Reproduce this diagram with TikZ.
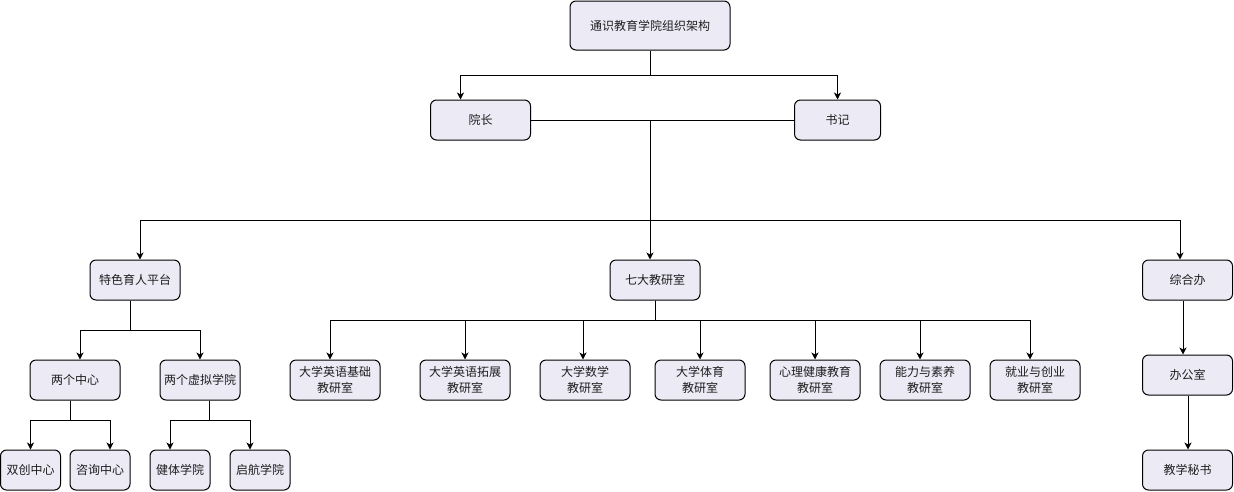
\documentclass[tikz,border=0pt]{standalone}
\usepackage{fontspec}
\setmainfont{Noto Sans CJK SC}
\usetikzlibrary{arrows.meta,calc}
\definecolor{boxfill}{RGB}{236,234,245}
\definecolor{txt}{RGB}{30,30,30}
\begin{document}
\begin{tikzpicture}[x=1pt,y=-1pt,
  box/.style={draw=black, line width=1pt, fill=boxfill, rounded corners=6pt, inner sep=0pt,
    align=center, font=\fontsize{12}{16.5}\selectfont, text=txt},
  arr/.style={line width=1pt, -{Stealth[length=7pt,width=7pt,inset=2pt]}},
  ln/.style={line width=1pt}]
\useasboundingbox (0,0) rectangle (1234,491);

% top levels
\node[box, minimum width=160pt, minimum height=49pt] (top) at (650,25.5) {通识教育学院组织架构};
\node[box, minimum width=100pt, minimum height=40pt] (yz) at (480.5,120) {院长};
\node[box, minimum width=86pt, minimum height=40pt] (sj) at (837.5,120) {书记};

\node[box, minimum width=90pt, minimum height=40pt] (tese) at (135,280) {特色育人平台};
\node[box, minimum width=90pt, minimum height=40pt] (qida) at (655,280) {七大教研室};
\node[box, minimum width=90pt, minimum height=40pt] (zhb) at (1187.5,280) {综合办};

% left branch
\node[box, minimum width=90pt, minimum height=40pt] (lgzx) at (75,380) {两个中心};
\node[box, minimum width=80pt, minimum height=40pt] (lgxn) at (200,380) {两个虚拟学院};
\node[box, minimum width=60pt, minimum height=40pt] (sc) at (30.5,470) {双创中心};
\node[box, minimum width=60pt, minimum height=40pt] (zx) at (100,470) {咨询中心};
\node[box, minimum width=60pt, minimum height=40pt] (jt) at (180,470) {健体学院};
\node[box, minimum width=60pt, minimum height=40pt] (qh) at (260,470) {启航学院};

% middle branch
\node[box, minimum width=90pt, minimum height=40pt] (e1) at (335,380) {大学英语基础\\教研室};
\node[box, minimum width=90pt, minimum height=40pt] (e2) at (465,380) {大学英语拓展\\教研室};
\node[box, minimum width=90pt, minimum height=40pt] (ma) at (585,380) {大学数学\\教研室};
\node[box, minimum width=90pt, minimum height=40pt] (pe) at (700,380) {大学体育\\教研室};
\node[box, minimum width=90pt, minimum height=40pt] (psy) at (815,380) {心理健康教育\\教研室};
\node[box, minimum width=90pt, minimum height=40pt] (nl) at (925,380) {能力与素养\\教研室};
\node[box, minimum width=90pt, minimum height=40pt] (jy) at (1035,380) {就业与创业\\教研室};

% right branch
\node[box, minimum width=90pt, minimum height=40pt] (bgs) at (1187.5,375) {办公室};
\node[box, minimum width=90pt, minimum height=40pt] (ms) at (1187.5,470) {教学秘书};

% connectors: top
\draw[arr] (top.south) -- ++(0,25) -| ([xshift=-20pt]yz.north);
\draw[arr] (top.south) -- ++(0,25) -| (sj.north);
\draw[ln] (yz.east) -- (sj.west);
\coordinate (hub) at (top.south |- yz.east);
\draw[arr] (hub) -- ++(0,100) -| ([xshift=5pt]tese.north);
\draw[arr] (hub) -- ([xshift=-5pt]qida.north);
\draw[arr] (hub) -- ++(0,100) -| ([xshift=-7.5pt]zhb.north);

% left branch
\draw[arr] ([xshift=-5pt]tese.south) -- ++(0,30) -| ([xshift=5pt]lgzx.north);
\draw[arr] ([xshift=-5pt]tese.south) -- ++(0,30) -| (lgxn.north);
\draw[arr] ([xshift=-5pt]lgzx.south) -- ++(0,20) -| (sc.north);
\draw[arr] ([xshift=-5pt]lgzx.south) -- ++(0,20) -| ([xshift=10pt]zx.north);
\draw[arr] ([xshift=9.5pt]lgxn.south) -- ++(0,20) -| ([xshift=-10pt]jt.north);
\draw[arr] ([xshift=9.5pt]lgxn.south) -- ++(0,20) -| ([xshift=-10pt]qh.north);

% middle branch
\foreach \n/\s in {e1/-5, e2/0, ma/-2, pe/0, psy/0, nl/-5, jy/-5}
  \draw[arr] (qida.south) -- ++(0,20) -| ([xshift=\s pt]\n.north);

% right branch
\draw[arr] ([xshift=-4.5pt]zhb.south) -- ([xshift=-4.5pt]bgs.north);
\draw[arr] ([xshift=0.5pt]bgs.south) -- ([xshift=0.5pt]ms.north);
\end{tikzpicture}
\end{document}
